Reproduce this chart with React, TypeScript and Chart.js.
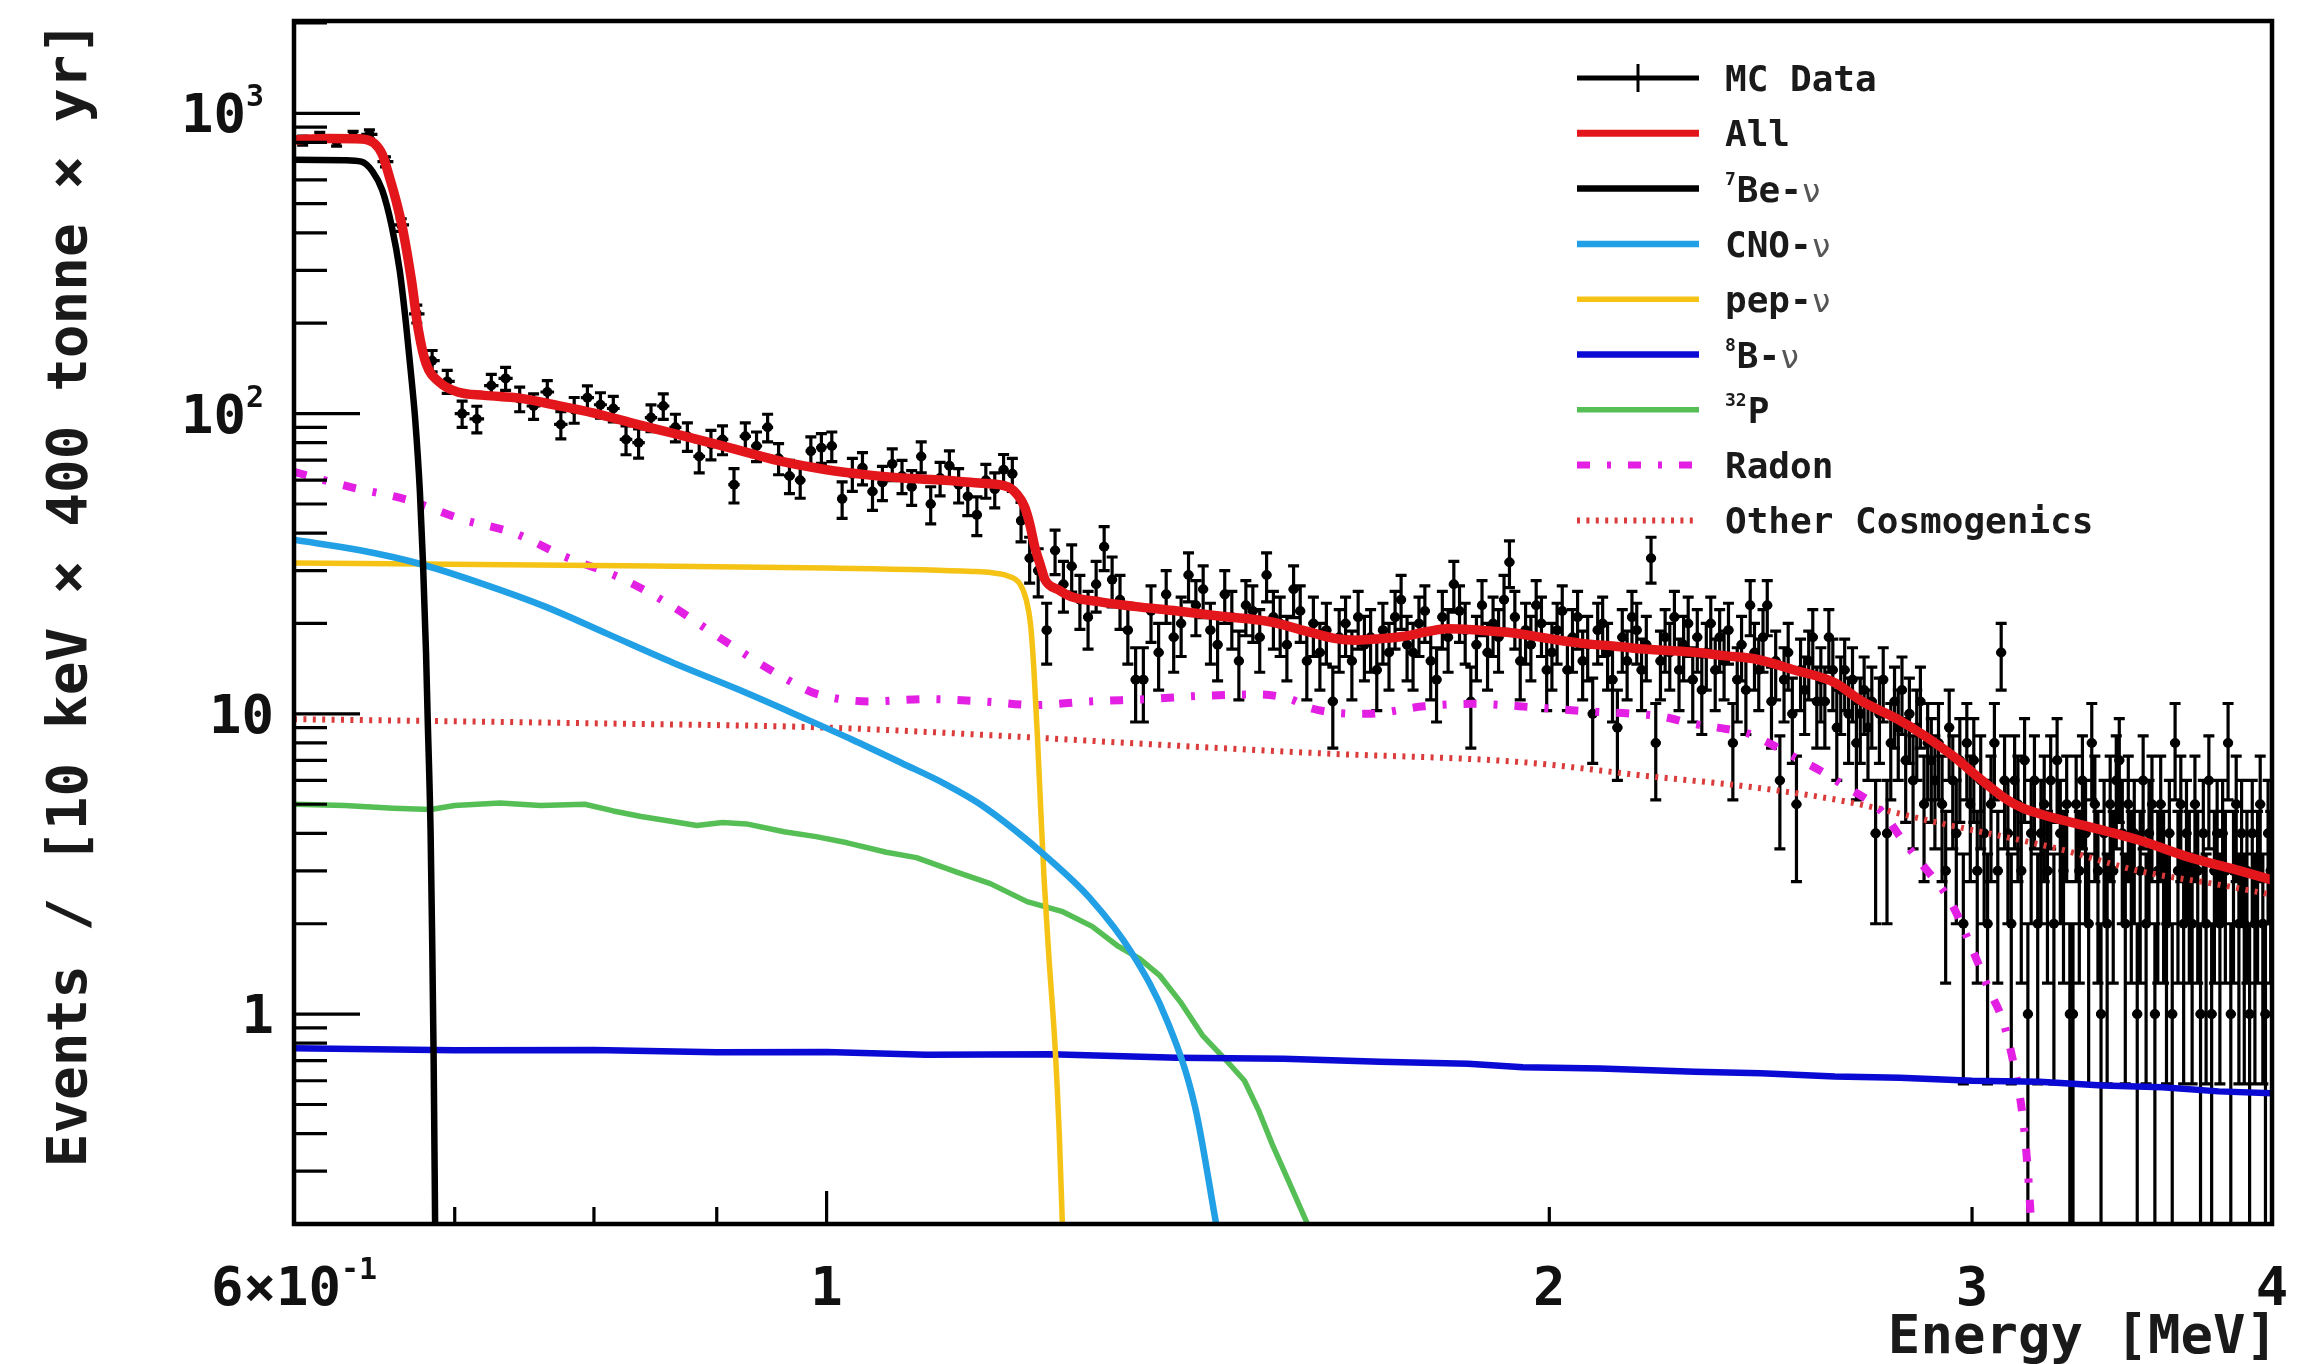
import React, { useEffect, useRef } from 'react';
import { Chart, registerables } from 'chart.js';

Chart.register(...registerables);

const WIDTH = 2315;
const HEIGHT = 1364;
const MONO = '"DejaVu Sans Mono", "Liberation Mono", monospace';

// ---------- axis ranges ----------
const xMin = 0.6;
const xMax = 4;
const yMin = 0.2;
const yMax = 2030;

// ---------- MC data: counts per 10 keV bin starting at 0.60 MeV ----------
const binStart = 0.6;
const binWidth = 0.01;
const mcCounts = [
  812, 835, 806, 842, 851, 690, 425, 215, 150, 128,
  100, 96, 124, 131, 112, 106, 118, 92, 103, 113,
  107, 104, 82, 80, 97, 106, 90, 84, 72, 79,
  82, 58, 84, 78, 90, 71, 62, 60, 75, 77,
  78, 52, 63, 66, 55, 59, 68, 62, 57, 72,
  50, 61, 67, 58, 53, 46, 60, 56, 65, 63,
  44, 33, 30, 19, 35, 27, 31, 24, 21, 27,
  36, 28, 24, 19, 13, 13, 22, 16, 25, 18,
  20, 29, 23, 26, 19, 17, 25, 21, 15, 23,
  22, 18, 29, 21, 20, 17, 26, 22, 15, 20,
  16, 19, 11, 18, 20, 15, 21, 17, 18, 14,
  19, 16, 21, 24, 17, 16, 20, 22, 15, 13,
  21, 18, 27, 22, 19, 11, 17, 23, 16, 20,
  18, 24, 32, 21, 15, 19, 17, 23, 20, 14,
  16, 19, 22, 14, 18, 21, 15, 17, 10, 19,
  20, 16, 13, 9, 18, 15, 21, 19, 14, 17,
  33, 8, 15, 18, 16, 21, 14, 17, 20, 13,
  18, 12, 16, 20, 14, 18, 15, 19, 8, 13,
  17, 12, 23, 16, 14, 18, 23, 11, 15, 6,
  13, 16, 10, 5, 14, 12, 15, 18, 11, 13,
  11, 18, 14, 9, 12, 14, 10, 13, 8, 10,
  12, 9, 11, 4, 10, 13, 4, 8, 11, 9,
  12, 7, 10, 6, 9, 11, 5, 8, 7, 6,
  8, 5, 3, 9, 6, 4, 7, 2, 8, 5,
  7, 3, 6, 4, 2, 5, 8, 3, 16, 6,
  4, 2, 6, 5, 3, 7, 1, 4, 6, 2,
  4, 5, 3, 6, 2, 7, 4, 3, 5, 1,
  1, 5, 3, 6, 4, 2, 8, 5, 3, 1,
  4, 2, 5, 3, 6, 7, 4, 2, 5, 3,
  4, 1, 3, 6, 2, 4, 5, 1, 3, 5,
  3, 2, 4, 1, 8, 3, 5, 2, 4, 3,
  2, 5, 3, 1, 4, 2, 6, 1, 3, 4,
  2, 4, 3, 8, 1, 3, 5, 2, 4, 2,
  3, 1, 4, 2, 3, 5, 2, 1, 4, 3,
];

// ---------- fitted components (energy in MeV, value) ----------
const allE = [0.600, 0.620, 0.640, 0.648, 0.653, 0.658, 0.662, 0.666, 0.6715, 0.676, 0.681, 0.690, 0.702, 0.720, 0.745, 0.770, 0.800, 0.830, 0.863, 0.900, 0.928, 0.960, 1.000, 1.040, 1.075, 1.120, 1.157, 1.190, 1.200, 1.209, 1.215, 1.221, 1.228, 1.233, 1.249, 1.264, 1.300, 1.343, 1.400, 1.463, 1.528, 1.594, 1.630, 1.663, 1.700, 1.737, 1.780, 1.813, 1.870, 1.932, 2.000, 2.060, 2.130, 2.198, 2.260, 2.304, 2.370, 2.440, 2.530, 2.630, 2.700, 2.793, 2.870, 2.955, 3.000, 3.100, 3.150, 3.200, 3.300, 3.420, 3.520, 3.690, 3.850, 4.000];
const allV = [815, 825, 822, 795, 730, 601, 505, 410, 279, 190, 147, 127, 118, 115, 112.6, 107, 100.4, 93, 86, 79, 74, 69, 65, 62.5, 61, 60, 58.7, 57, 54, 49, 43, 36, 31, 28, 25.9, 24.6, 23.6, 22.8, 22, 21.1, 20.3, 18.6, 17.8, 17.6, 17.8, 18.1, 18.8, 19.2, 19.0, 18.6, 17.8, 17.2, 16.8, 16.4, 16.2, 16.0, 15.6, 15.2, 14.0, 12.7, 11.0, 9.6, 8.4, 7.1, 6.4, 5.2, 4.85, 4.65, 4.35, 4.05, 3.8, 3.34, 3.05, 2.8];

const be7E = [0.600, 0.630, 0.640, 0.647, 0.653, 0.659, 0.664, 0.668, 0.671, 0.674, 0.677, 0.679, 0.681, 0.682, 0.684, 0.685, 0.686, 0.687];
const be7V = [700, 698, 690, 640, 555, 420, 300, 200, 140, 95, 55, 32, 16, 10, 4, 1.8, 0.7, 0.19];

const cnoE = [0.600, 0.640, 0.675, 0.720, 0.763, 0.810, 0.863, 0.920, 0.975, 1.025, 1.075, 1.120, 1.157, 1.198, 1.236, 1.287, 1.340, 1.387, 1.424, 1.453];
const cnoV = [38, 35, 31.8, 27, 22.8, 18.5, 14.8, 12, 9.8, 8.2, 6.85, 5.85, 5.04, 4.1, 3.32, 2.44, 1.6, 0.94, 0.49, 0.2];

const pepE = [0.600, 0.800, 1.000, 1.150, 1.172, 1.190, 1.204, 1.211, 1.216, 1.220, 1.224, 1.228, 1.232, 1.238, 1.245, 1.250, 1.254];
const pepV = [31.8, 31.2, 30.6, 29.8, 29.5, 28.8, 27.0, 24, 19.9, 14, 8.5, 4.8, 2.8, 1.5, 0.78, 0.4, 0.19];

const b8E = [0.600, 0.700, 0.800, 0.900, 1.000, 1.100, 1.240, 1.400, 1.550, 1.700, 1.850, 1.950, 2.100, 2.300, 2.450, 2.630, 2.800, 3.000, 3.200, 3.400, 3.600, 3.800, 4.000];
const b8V = [0.77, 0.758, 0.76, 0.746, 0.748, 0.732, 0.735, 0.716, 0.71, 0.694, 0.683, 0.665, 0.659, 0.643, 0.636, 0.62, 0.614, 0.6, 0.595, 0.579, 0.571, 0.553, 0.545];

const p32E = [0.600, 0.630, 0.660, 0.684, 0.700, 0.731, 0.760, 0.793, 0.815, 0.837, 0.860, 0.883, 0.905, 0.926, 0.960, 0.990, 1.020, 1.059, 1.090, 1.133, 1.170, 1.212, 1.253, 1.290, 1.323, 1.350, 1.377, 1.405, 1.434, 1.465, 1.493, 1.513, 1.533, 1.560, 1.586];
const p32V = [5.0, 4.95, 4.85, 4.8, 4.95, 5.05, 4.95, 5.0, 4.75, 4.55, 4.4, 4.25, 4.35, 4.3, 4.05, 3.9, 3.72, 3.46, 3.32, 2.97, 2.72, 2.37, 2.2, 1.96, 1.68, 1.53, 1.34, 1.09, 0.85, 0.71, 0.6, 0.48, 0.37, 0.27, 0.2];

const radonE = [0.600, 0.633, 0.669, 0.706, 0.741, 0.778, 0.821, 0.858, 0.901, 0.942, 0.970, 0.989, 1.044, 1.102, 1.163, 1.221, 1.286, 1.360, 1.438, 1.514, 1.560, 1.594, 1.678, 1.774, 1.859, 1.975, 2.070, 2.170, 2.228, 2.290, 2.350, 2.420, 2.476, 2.520, 2.600, 2.650, 2.750, 2.800, 2.860, 2.940, 3.010, 3.050, 3.090, 3.120, 3.150, 3.165, 3.175];
const radonV = [64, 57, 51.6, 44.3, 40, 33.4, 28.3, 23.4, 18.1, 14.4, 12.6, 11.7, 11, 11.2, 11, 10.7, 11, 11.2, 11.5, 11.6, 11.2, 10.4, 10, 10.6, 10.8, 10.5, 10.2, 10.0, 9.8, 9.3, 9.0, 8.6, 7.9, 7.3, 6.4, 5.8, 4.75, 3.9, 3.15, 2.35, 1.55, 1.2, 0.95, 0.7, 0.45, 0.3, 0.2];

const cosmoE = [0.600, 0.800, 1.000, 1.200, 1.335, 1.600, 1.950, 2.200, 2.430, 2.660, 2.900, 3.260, 3.520, 3.800, 4.000];
const cosmoV = [9.6, 9.3, 9.0, 8.4, 8.0, 7.4, 6.9, 6.2, 5.7, 5.1, 4.35, 3.55, 3.0, 2.7, 2.5];

// ---------- ticks and labels ----------
const yLabelValues = [1, 10, 100, 1000];
const yLabelBases = ['1', '10', '10', '10'];
const yLabelSups = ['', '', '2', '3'];
const xLabelValues = [0.6, 1, 2, 3, 4];
const xLabelBases = ['6×10', '1', '2', '3', '4'];
const xLabelSups = ['-1', '', '', '', ''];
const xShortTicks = [0.7, 0.8, 0.9, 2, 3];
const xLongTicks = [1];
const yTitle = 'Events / [10 keV × 400 tonne × yr]';
const xTitle = 'Energy [MeV]';

// ---------- legend ----------
const legendKeys = ['mc', 'all', 'be7', 'cno', 'pep', 'b8', 'p32', 'radon', 'cosmo'];
const legendSups = ['', '', '7', '', '', '8', '32', '', ''];
const legendNames = ['MC Data', 'All', 'Be-', 'CNO-', 'pep-', 'B-', 'P', 'Radon', 'Other Cosmogenics'];
const legendNu = [false, false, true, true, true, true, false, false, false];

type Style = { color: string; width: number; dash: number[] };
const styles: Record<string, Style> = {
  mc: { color: '#000000', width: 5, dash: [] },
  all: { color: '#e2161b', width: 9.5, dash: [] },
  be7: { color: '#000000', width: 6.5, dash: [] },
  cno: { color: '#22a0e5', width: 6.5, dash: [] },
  pep: { color: '#f4c316', width: 5.5, dash: [] },
  b8: { color: '#0a0ad4', width: 6.5, dash: [] },
  p32: { color: '#55bf55', width: 5.5, dash: [] },
  radon: { color: '#e21fe2', width: 8, dash: [13, 17, 4, 17] },
  cosmo: { color: '#dc3b3b', width: 6, dash: [3, 6.4] },
};

function curve(label: string, E: number[], V: number[], key: string, smooth: boolean) {
  const st = styles[key];
  return {
    type: 'line',
    label,
    data: E.map((e, i) => ({ x: e, y: V[i] })),
    borderColor: st.color,
    borderWidth: st.width,
    borderDash: st.dash,
    borderCapStyle: 'butt',
    borderJoinStyle: 'round',
    pointRadius: 0,
    fill: false,
    tension: smooth ? 0.4 : 0,
    cubicInterpolationMode: smooth ? 'monotone' : 'default',
    clip: 0,
  };
}

const errorBarsPlugin = {
  id: 'errorBars',
  beforeDatasetsDraw(chart: any) {
    const { ctx, chartArea: a, scales } = chart;
    const xs = scales.x;
    const ys = scales.y;
    const cap = 5.5;
    ctx.save();
    ctx.beginPath();
    ctx.rect(a.left, a.top, a.right - a.left, a.bottom - a.top);
    ctx.clip();
    ctx.strokeStyle = '#000';
    ctx.lineWidth = 3.2;
    ctx.setLineDash([]);
    ctx.beginPath();
    mcCounts.forEach((n, i) => {
      if (n <= 0) return;
      const lo = binStart + i * binWidth;
      const hi = lo + binWidth;
      const c = lo + binWidth / 2;
      const px = xs.getPixelForValue(c);
      const py = ys.getPixelForValue(n);
      const err = Math.sqrt(n);
      const top = ys.getPixelForValue(n + err);
      const hasLow = n - err > 1e-9;
      const bot = hasLow ? ys.getPixelForValue(n - err) : a.bottom + 10;
      ctx.moveTo(px, top);
      ctx.lineTo(px, bot);
      ctx.moveTo(px - cap, top);
      ctx.lineTo(px + cap, top);
      if (hasLow) {
        ctx.moveTo(px - cap, bot);
        ctx.lineTo(px + cap, bot);
      }
      let xl = xs.getPixelForValue(lo);
      let xr = xs.getPixelForValue(hi);
      if (xr - xl < 10) {
        xl = px - 5;
        xr = px + 5;
      }
      ctx.moveTo(xl, py);
      ctx.lineTo(xr, py);
    });
    ctx.stroke();
    ctx.restore();
  },
};

const framePlugin = {
  id: 'rootFrame',
  afterDatasetsDraw(chart: any) {
    const { ctx, chartArea: a, scales } = chart;
    const xs = scales.x;
    const ys = scales.y;
    ctx.save();
    ctx.setLineDash([]);
    ctx.strokeStyle = '#000';
    ctx.lineWidth = 3.2;
    ctx.beginPath();
    for (let e = -1; e <= 3; e++) {
      for (let m = 1; m <= 9; m++) {
        const v = m * Math.pow(10, e);
        if (v < yMin - 1e-9 || v > yMax) continue;
        const py = ys.getPixelForValue(v);
        const len = m === 1 ? 66 : 33;
        ctx.moveTo(a.left, py);
        ctx.lineTo(a.left + len, py);
      }
    }
    xShortTicks.forEach((v) => {
      const px = xs.getPixelForValue(v);
      ctx.moveTo(px, a.bottom);
      ctx.lineTo(px, a.bottom - 17);
    });
    xLongTicks.forEach((v) => {
      const px = xs.getPixelForValue(v);
      ctx.moveTo(px, a.bottom);
      ctx.lineTo(px, a.bottom - 33);
    });
    ctx.stroke();
    ctx.lineWidth = 4.5;
    ctx.strokeRect(a.left, a.top, a.right - a.left, a.bottom - a.top);

    // tick labels (base + superscript), placed with the scales' own pixel mapping
    ctx.fillStyle = '#111';
    ctx.textBaseline = 'alphabetic';
    ctx.textAlign = 'left';
    const baseFont = `bold 54px ${MONO}`;
    const supFont = `bold 30px ${MONO}`;
    yLabelValues.forEach((v, k) => {
      const py = ys.getPixelForValue(v);
      ctx.font = baseFont;
      const wb = ctx.measureText(yLabelBases[k]).width;
      ctx.font = supFont;
      const ws = yLabelSups[k] ? ctx.measureText(yLabelSups[k]).width : 0;
      const right = a.left - (yLabelSups[k] ? 30 : 20);
      const x0 = right - wb - ws;
      ctx.font = baseFont;
      ctx.fillText(yLabelBases[k], x0, py + 19);
      if (yLabelSups[k]) {
        ctx.font = supFont;
        ctx.fillText(yLabelSups[k], x0 + wb, py - 7);
      }
    });
    xLabelValues.forEach((v, k) => {
      const px = xs.getPixelForValue(v);
      ctx.font = baseFont;
      const wb = ctx.measureText(xLabelBases[k]).width;
      ctx.font = supFont;
      const ws = xLabelSups[k] ? ctx.measureText(xLabelSups[k]).width : 0;
      const x0 = px - (wb + ws) / 2;
      const base = a.bottom + 81;
      ctx.font = baseFont;
      ctx.fillText(xLabelBases[k], x0, base);
      if (xLabelSups[k]) {
        ctx.font = supFont;
        ctx.fillText(xLabelSups[k], x0 + wb, base - 26);
      }
    });
    ctx.restore();
  },
};

const legendPlugin = {
  id: 'rootLegend',
  afterDraw(chart: any) {
    const ctx = chart.ctx;
    const x0 = 1577;
    const x1 = 1699;
    const textX = 1725;
    const top = 78;
    const step = 55.3;
    ctx.save();
    legendKeys.forEach((key, k) => {
      const yc = top + k * step;
      const st = styles[key];
      ctx.beginPath();
      ctx.setLineDash(st.dash);
      ctx.lineCap = 'butt';
      ctx.lineWidth = Math.min(st.width, 7);
      ctx.strokeStyle = st.color;
      ctx.moveTo(x0, yc);
      ctx.lineTo(x1, yc);
      ctx.stroke();
      if (key === 'mc') {
        ctx.beginPath();
        ctx.setLineDash([]);
        ctx.lineWidth = 3;
        ctx.moveTo((x0 + x1) / 2, yc - 14);
        ctx.lineTo((x0 + x1) / 2, yc + 14);
        ctx.stroke();
      }
      ctx.setLineDash([]);
      const base = yc + 13;
      let tx = textX;
      ctx.textBaseline = 'alphabetic';
      ctx.textAlign = 'left';
      ctx.fillStyle = '#1a1a1a';
      const sup = legendSups[k];
      if (sup) {
        ctx.font = `bold 18px ${MONO}`;
        ctx.fillText(sup, tx, base - 17);
        tx += ctx.measureText(sup).width + 1;
      }
      ctx.font = `bold 36px ${MONO}`;
      ctx.fillText(legendNames[k], tx, base);
      tx += ctx.measureText(legendNames[k]).width;
      if (legendNu[k]) {
        ctx.font = `32px ${MONO}`;
        ctx.fillStyle = '#555';
        ctx.fillText('ν', tx, base);
      }
    });
    ctx.restore();
  },
};

// x-axis title drawn right-aligned just past the frame edge, as in the original
const xTitlePlugin = {
  id: 'xTitle',
  afterDraw(chart: any) {
    const { ctx, chartArea: a } = chart;
    ctx.save();
    ctx.font = `bold 54px ${MONO}`;
    ctx.fillStyle = '#1a1a1a';
    ctx.textAlign = 'right';
    ctx.textBaseline = 'alphabetic';
    ctx.fillText(xTitle, a.right + 6, a.bottom + 129);
    ctx.restore();
  },
};

export default function App() {
  const ref = useRef<HTMLCanvasElement | null>(null);

  useEffect(() => {
    if (!ref.current) return;
    const mcPoints = mcCounts
      .map((n, i) => ({ x: binStart + (i + 0.5) * binWidth, y: n }))
      .filter((p) => p.y > 0);

    const datasets: any[] = [
      curve('All', allE, allV, 'all', true),
      curve('7Be', be7E, be7V, 'be7', true),
      curve('CNO', cnoE, cnoV, 'cno', true),
      curve('pep', pepE, pepV, 'pep', true),
      curve('8B', b8E, b8V, 'b8', false),
      curve('32P', p32E, p32V, 'p32', false),
      curve('Radon', radonE, radonV, 'radon', true),
      curve('Other Cosmogenics', cosmoE, cosmoV, 'cosmo', true),
      {
        type: 'line',
        label: 'MC Data',
        data: mcPoints,
        showLine: false,
        pointRadius: 5,
        pointStyle: 'circle',
        pointBackgroundColor: '#000',
        pointBorderColor: '#000',
        pointBorderWidth: 0,
        clip: 0,
      },
    ];

    const chart = new Chart(ref.current, {
      type: 'line',
      data: { datasets },
      options: {
        responsive: false,
        animation: false,
        devicePixelRatio: 1,
        events: [],
        layout: { padding: { left: 0, top: 21, right: 43, bottom: 0 } },
        plugins: {
          legend: { display: false },
          tooltip: { enabled: false },
        },
        scales: {
          x: {
            type: 'logarithmic',
            min: xMin,
            max: xMax,
            bounds: 'data',
            grid: { display: false, drawTicks: false },
            border: { display: false },
            afterBuildTicks: (s: any) => {
              s.ticks = xLabelValues.map((v) => ({ value: v }));
            },
            afterFit: (s: any) => {
              s.height = 140;
              s.paddingLeft = 0;
              s.paddingRight = 0;
              s.paddingTop = 0;
              s.paddingBottom = 0;
            },
            ticks: { display: false, autoSkip: false },
            title: { display: false },
          },
          y: {
            type: 'logarithmic',
            min: yMin,
            max: yMax,
            bounds: 'data',
            grid: { display: false, drawTicks: false },
            border: { display: false },
            afterBuildTicks: (s: any) => {
              s.ticks = yLabelValues.map((v) => ({ value: v }));
            },
            afterFit: (s: any) => {
              s.width = 294;
              s.paddingLeft = 0;
              s.paddingRight = 0;
              s.paddingTop = 0;
              s.paddingBottom = 0;
            },
            ticks: { display: false, autoSkip: false },
            title: {
              display: true,
              text: yTitle,
              align: 'end',
              color: '#1a1a1a',
              font: { family: MONO, size: 56, weight: 'bold' },
              padding: { top: 38, bottom: 0 },
            },
          },
        },
      } as any,
      plugins: [errorBarsPlugin, framePlugin, legendPlugin, xTitlePlugin],
    } as any);

    return () => chart.destroy();
  }, []);

  return (
    <div style={{ position: 'fixed', left: 0, top: 0, width: WIDTH, height: HEIGHT, background: '#fff' }}>
      <canvas ref={ref} width={WIDTH} height={HEIGHT} style={{ display: 'block', width: WIDTH, height: HEIGHT }} />
    </div>
  );
}
